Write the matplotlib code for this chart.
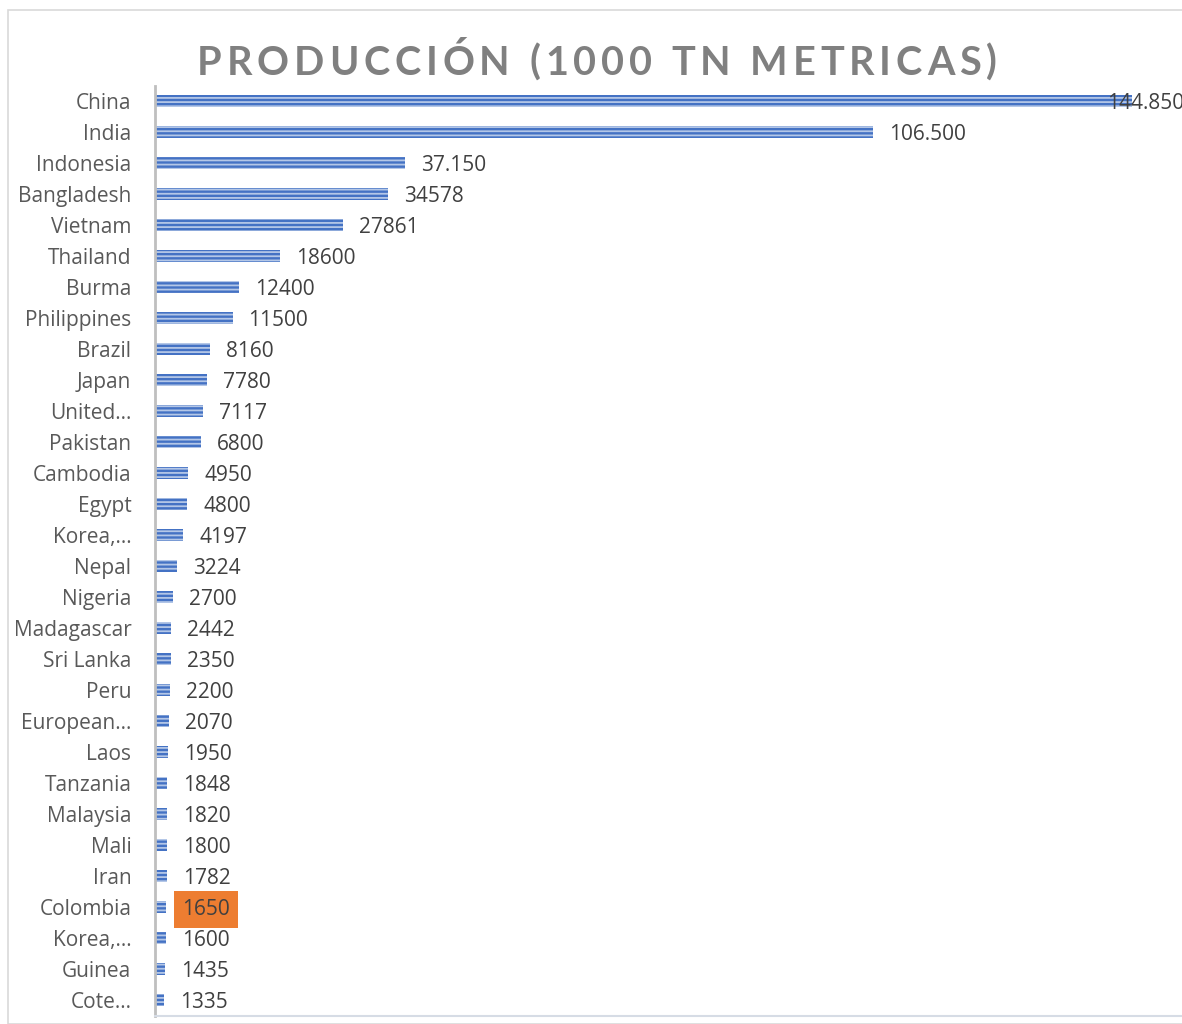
import matplotlib
matplotlib.use("Agg")
import matplotlib.pyplot as plt
from matplotlib.patches import Rectangle

paises = ["China", "India", "Indonesia", "Bangladesh", "Vietnam", "Thailand", "Burma",
          "Philippines", "Brazil", "Japan", "United…", "Pakistan", "Cambodia", "Egypt",
          "Korea,…", "Nepal", "Nigeria", "Madagascar", "Sri Lanka", "Peru", "European…",
          "Laos", "Tanzania", "Malaysia", "Mali", "Iran", "Colombia", "Korea,…", "Guinea",
          "Cote…"]
produccion = [144850, 106500, 37150, 34578, 27861, 18600, 12400, 11500, 8160, 7780,
              7117, 6800, 4950, 4800, 4197, 3224, 2700, 2442, 2350, 2200, 2070, 1950,
              1848, 1820, 1800, 1782, 1650, 1600, 1435, 1335]
etiquetas = ["144.850", "106.500", "37.150", "34578", "27861", "18600", "12400", "11500",
             "8160", "7780", "7117", "6800", "4950", "4800", "4197", "3224", "2700",
             "2442", "2350", "2200", "2070", "1950", "1848", "1820", "1800", "1782",
             "1650", "1600", "1435", "1335"]
resaltado = "Colombia"
titulo = "PRODUCCIÓN (1000 TN METRICAS)"

plt.rcParams['font.family'] = ['Open Sans', 'DejaVu Sans']
plt.rcParams['hatch.linewidth'] = 1.3

fig = plt.figure(figsize=(11.82, 10.24), dpi=100)
ax = fig.add_axes([155 / 1182, 1 - 1015.5 / 1024, 1035 / 1182, 930 / 1024])

# borde exterior del grafico
fig.patches.append(Rectangle((8 / 1182, 0), 1.2, 1 - 10 / 1024, transform=fig.transFigure,
                             fill=False, edgecolor='#d9d9d9', lw=1.2))

y = list(range(len(paises)))
ax.barh(y, produccion, height=0.41, color='#4472c4', edgecolor='#b4c7e7', lw=0,
        hatch='----')
ax.set_xlim(0, 153500)
ax.set_ylim(len(paises) - 0.5, -0.5)
ax.set_yticks(y)
ax.set_yticklabels(paises, fontsize=15, color='#595959')
ax.tick_params(axis='y', length=0, pad=17)
ax.set_xticks([])

for i, (v, t) in enumerate(zip(produccion, etiquetas)):
    if v > 140000:
        # no cabe fuera de la barra: se mete hacia dentro
        ax.annotate(t, (v, i), xytext=(-18, -1.5), textcoords='offset points', ha='left',
                    va='center', fontsize=15, color='#404040')
    elif paises[i] == resaltado:
        ax.annotate(t, (v, i), xytext=(11.5, -1.5), textcoords='offset points', ha='left',
                    va='center', fontsize=15, color='#404040',
                    bbox=dict(boxstyle='square,pad=0.38', fc='#ed7d31', ec='none'))
    else:
        ax.annotate(t, (v, i), xytext=(11.5, -1.5), textcoords='offset points', ha='left',
                    va='center', fontsize=15, color='#404040')

for s in ['top', 'right']:
    ax.spines[s].set_visible(False)
ax.spines['left'].set_color('#bfbfbf')
ax.spines['left'].set_linewidth(2)
ax.spines['bottom'].set_color('#d6dce5')
ax.spines['bottom'].set_linewidth(1.5)

# titulo con espaciado entre letras
tprops = dict(fontsize=28.5, fontweight='bold', color='#808080', va='baseline', ha='left',
              family=['Lato', 'DejaVu Sans'])
r = fig.canvas.get_renderer()
def ancho(s):
    tt = fig.text(0, 0, s, **tprops)
    w = tt.get_window_extent(r).width
    tt.remove()
    return w
total = 800
track = (total - ancho(titulo)) / (len(titulo) - 1)
x0 = 597 - total / 2
for i, ch in enumerate(titulo):
    if ch == ' ':
        continue
    xi = x0 + ancho(titulo[:i]) + track * i if i else x0
    fig.text(xi / 1182, 1 - 75 / 1024, ch, **tprops)

fig.savefig("out.png", dpi=100)
